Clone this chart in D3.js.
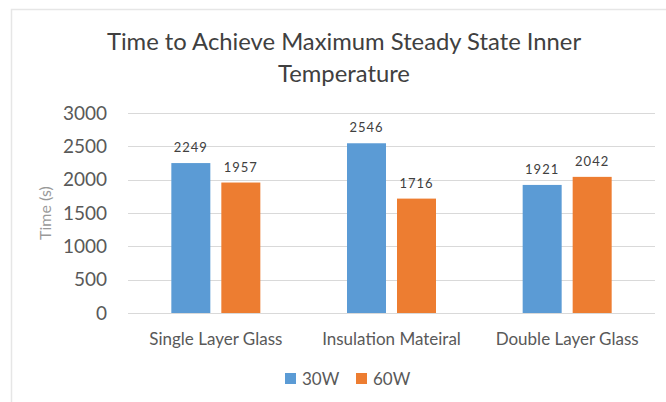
<!DOCTYPE html>
<html>
<head>
<meta charset="utf-8">
<script src="https://cdn.jsdelivr.net/npm/d3@7"></script>
<style>
  body { margin: 0; background: #fff; }
  svg { display: block; font-family: "Lato", "Open Sans", sans-serif; }
</style>
</head>
<body>
<svg id="chart"></svg>
<script>
// Data
const categories = ["Single Layer Glass", "Insulation Mateiral", "Double Layer Glass"];
const seriesNames = ["30W", "60W"];
const values30W = [2249, 2546, 1921];
const values60W = [1957, 1716, 2042];
const yTicks = [0, 500, 1000, 1500, 2000, 2500, 3000];
const colors = ["#5b9bd5", "#ed7d31"];

const width = 666;
const height = 402;

// Plot area
const plot = { left: 128, right: 655, top: 113, bottom: 313 };

const svg = d3.select("#chart")
    .attr("width", width)
    .attr("height", height);

// Chart frame
svg.append("path")
    .attr("d", `M11.5,${height} V9.5 H${width}`)
    .attr("fill", "none")
    .attr("stroke", "#e6e6e6")
    .attr("stroke-width", 1.5);

// Title
const title = svg.append("text")
    .attr("text-anchor", "middle")
    .style("font-size", "23.8px")
    .style("fill", "#404040");
title.append("tspan").attr("x", 344).attr("y", 50).text("Time to Achieve Maximum Steady State Inner");
title.append("tspan").attr("x", 344).attr("y", 82).text("Temperature");

// Scales
const x0 = d3.scaleBand()
    .domain(categories)
    .range([plot.left, plot.right]);

const x1 = d3.scaleBand()
    .domain(seriesNames)
    .range([x0.bandwidth() / 2 - 44.5, x0.bandwidth() / 2 + 44.5])
    .paddingInner(0.22);

const y = d3.scaleLinear()
    .domain([0, 3000])
    .range([plot.bottom, plot.top]);

// Gridlines
svg.append("g")
    .selectAll("line")
    .data(yTicks)
    .join("line")
    .attr("x1", plot.left)
    .attr("x2", plot.right)
    .attr("y1", d => Math.round(y(d)) + 0.5)
    .attr("y2", d => Math.round(y(d)) + 0.5)
    .attr("stroke", "#d9d9d9")
    .attr("stroke-width", 1);

// Y axis labels
const yAxis = svg.append("g")
    .attr("transform", `translate(${plot.left - 21},0)`)
    .call(d3.axisLeft(y).tickValues(yTicks).tickFormat(d3.format("d")).tickSize(0).tickPadding(0));
yAxis.select(".domain").remove();
yAxis.selectAll("text")
    .style("font-family", "Lato, sans-serif")
    .style("font-size", "19px")
    .style("fill", "#595959");

// Y axis title
svg.append("text")
    .attr("transform", `translate(51,${(plot.top + plot.bottom) / 2}) rotate(-90)`)
    .attr("text-anchor", "middle")
    .style("font-size", "16px")
    .style("fill", "#999999")
    .text("Time (s)");

// Bars
const data = categories.map((c, i) => ({ category: c, values: [values30W[i], values60W[i]] }));

const groups = svg.append("g")
    .selectAll("g")
    .data(data)
    .join("g")
    .attr("transform", d => `translate(${x0(d.category)},0)`);

groups.selectAll("rect")
    .data(d => d.values.map((v, j) => ({ series: seriesNames[j], value: v, idx: j })))
    .join("rect")
    .attr("x", d => x1(d.series))
    .attr("y", d => y(d.value))
    .attr("width", x1.bandwidth())
    .attr("height", d => y(0) - y(d.value))
    .attr("fill", d => colors[d.idx]);

// Data labels
groups.selectAll("text")
    .data(d => d.values.map((v, j) => ({ series: seriesNames[j], value: v })))
    .join("text")
    .attr("x", d => x1(d.series) + x1.bandwidth() / 2)
    .attr("y", d => y(d.value) - 11)
    .attr("text-anchor", "middle")
    .style("font-size", "13px")
    .style("letter-spacing", "1px")
    .style("fill", "#404040")
    .text(d => d.value);

// Category labels
svg.append("g")
    .selectAll("text")
    .data(categories)
    .join("text")
    .attr("x", d => x0(d) + x0.bandwidth() / 2)
    .attr("y", 345)
    .attr("text-anchor", "middle")
    .style("font-size", "17px")
    .style("fill", "#595959")
    .text(d => d);

// Legend
const legend = svg.append("g")
    .attr("transform", "translate(285,373)");
const legendItems = legend.selectAll("g")
    .data(seriesNames)
    .join("g")
    .attr("transform", (d, i) => `translate(${i * 71},0)`);
legendItems.append("rect")
    .attr("width", 11)
    .attr("height", 11)
    .attr("fill", (d, i) => colors[i]);
legendItems.append("text")
    .attr("x", 17)
    .attr("y", 12)
    .style("font-size", "17px")
    .style("fill", "#595959")
    .text(d => d);
</script>
</body>
</html>
